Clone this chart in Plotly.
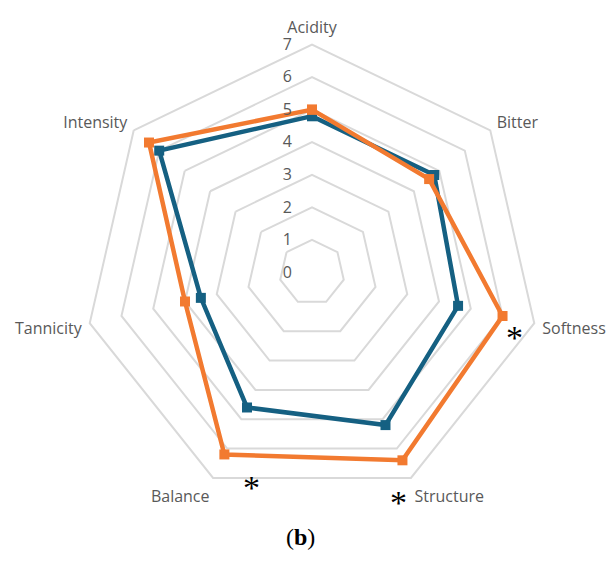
import plotly.graph_objects as go

# Sensory attributes scored on a 0-7 scale
attributes = ["Acidity", "Bitter", "Softness", "Structure", "Balance", "Tannicity", "Intensity"]
series_blue = [4.8, 4.8, 4.6, 5.2, 4.6, 3.5, 6.0]
series_orange = [5.0, 4.6, 6.0, 6.4, 6.2, 4.0, 6.4]
radial_ticks = [0, 1, 2, 3, 4, 5, 6, 7]

BLUE = "#156082"
ORANGE = "#F27A30"
GRID = "#d9d9d9"
LABEL = "#595959"


def closed(values):
    return list(values) + [values[0]]


fig = go.Figure()
for vals, color in ((series_blue, BLUE), (series_orange, ORANGE)):
    fig.add_trace(go.Scatterpolar(
        r=closed(vals),
        theta=closed(attributes),
        mode="lines+markers",
        line=dict(color=color, width=4.5),
        marker=dict(symbol="square", size=10, color=color),
        showlegend=False,
        hoverinfo="skip",
    ))

W, H = 609, 572
cx, cy, R = 312, 272.5, 228

fig.update_layout(
    width=W, height=H,
    margin=dict(l=0, r=0, t=0, b=0),
    paper_bgcolor="white",
    plot_bgcolor="white",
    polar=dict(
        domain=dict(x=[(cx - R) / W, (cx + R) / W],
                    y=[(H - cy - R) / H, (H - cy + R) / H]),
        bgcolor="white",
        gridshape="linear",
        angularaxis=dict(
            direction="clockwise",
            rotation=90,
            showgrid=False,
            showline=True,
            linecolor=GRID,
            linewidth=2,
            ticks="outside",
            ticklen=4,
            tickcolor="rgba(0,0,0,0)",
            tickfont=dict(family="Open Sans", size=16, color=LABEL),
        ),
        radialaxis=dict(
            range=[0, 7],
            tickvals=radial_ticks,
            ticktext=[str(t) for t in radial_ticks],
            angle=90,
            tickangle=90,
            side="counterclockwise",
            showline=False,
            showgrid=True,
            gridcolor=GRID,
            gridwidth=2,
            ticks="outside",
            ticklen=14,
            tickcolor="rgba(0,0,0,0)",
            tickfont=dict(family="Open Sans", size=16, color=LABEL),
        ),
    ),
    font=dict(family="Open Sans"),
)

# Significance markers
stars = [(514, 337), (251, 487), (398, 502)]
for x, y in stars:
    fig.add_annotation(
        x=x / W, y=1 - y / H, xref="paper", yref="paper",
        text="*", showarrow=False,
        font=dict(family="Liberation Serif", size=34, color="black"),
        xanchor="center", yanchor="middle",
    )

fig.add_annotation(
    x=300 / W, y=1 - 537 / H, xref="paper", yref="paper",
    text="(<b>b</b>)", showarrow=False,
    font=dict(family="Liberation Serif", size=24, color="black"),
    xanchor="center", yanchor="middle",
)

fig.write_html("out.html")
